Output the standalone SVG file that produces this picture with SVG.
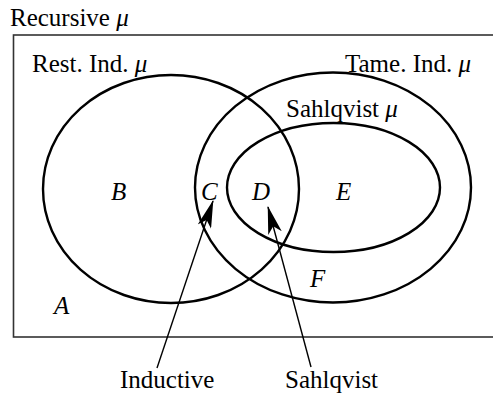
<svg xmlns="http://www.w3.org/2000/svg" width="493" height="394" viewBox="0 0 493 394">
<style>
text{font-family:"Liberation Serif","Times New Roman",serif;font-size:25px;fill:#000}
.it{font-style:italic}
.set{fill:none;stroke:#000;stroke-width:2.4}
.con{stroke:#000;stroke-width:1.4;fill:none}
</style>
<defs>
<marker id="ah" viewBox="0 0 28 14" refX="27" refY="7" markerWidth="28" markerHeight="14" markerUnits="userSpaceOnUse" orient="auto">
<path d="M0,0 L28,7 L0,14 L7,7 Z" fill="#000"/>
</marker>
</defs>
<rect fill="#fff" width="493" height="394"/>
<g id="recursive">
<rect x="13.5" y="35" width="485" height="302" fill="none" stroke="#333" stroke-width="1.6"/>
<text x="10" y="26">Recursive <tspan class="it">μ</tspan></text>
</g>
<g id="restricted">
<ellipse class="set" cx="171" cy="189" rx="128" ry="114"/>
<text x="32" y="72">Rest. Ind. <tspan class="it">μ</tspan></text>
</g>
<g id="tame">
<ellipse class="set" cx="333" cy="187.5" rx="138" ry="115"/>
<text x="345" y="72">Tame. Ind. <tspan class="it">μ</tspan></text>
</g>
<g id="sahlqvist">
<ellipse class="set" cx="333.5" cy="187.5" rx="106.5" ry="64.5"/>
<text x="286" y="117">Sahlqvist <tspan class="it">μ</tspan></text>
</g>
<g id="regions">
<text class="it" x="54" y="314">A</text>
<text class="it" x="111" y="200">B</text>
<text class="it" x="201" y="200">C</text>
<text class="it" x="252" y="200">D</text>
<text class="it" x="336" y="200">E</text>
<text class="it" x="310" y="287">F</text>
</g>
<g id="connectors">
<line class="con" x1="157" y1="368" x2="213" y2="201" marker-end="url(#ah)"/>
<line class="con" x1="311" y1="367" x2="268" y2="207" marker-end="url(#ah)"/>
</g>
<g id="inductive-label"><text x="120" y="388">Inductive</text></g>
<g id="sahlqvist-label"><text x="285" y="388">Sahlqvist</text></g>
</svg>
